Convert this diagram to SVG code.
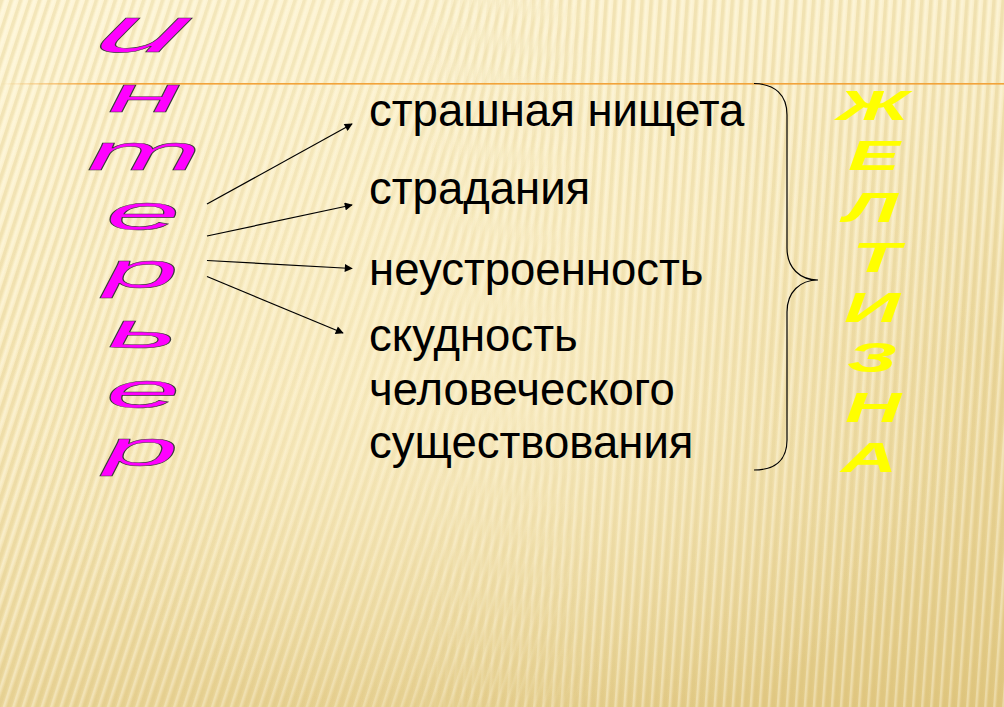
<svg xmlns="http://www.w3.org/2000/svg" width="1004" height="707" viewBox="0 0 1004 707">
  <defs>
    <linearGradient id="bg" x1="0" y1="0" x2="1" y2="1">
      <stop offset="0" stop-color="#FCF1CC"/>
      <stop offset="0.45" stop-color="#F6E6B6"/>
      <stop offset="1" stop-color="#E4CB86"/>
    </linearGradient>
    <linearGradient id="bgv" x1="0" y1="0" x2="0" y2="1">
      <stop offset="0" stop-color="#FFF8DC" stop-opacity="0.55"/>
      <stop offset="0.5" stop-color="#FFF8DC" stop-opacity="0.1"/>
      <stop offset="1" stop-color="#D9BE74" stop-opacity="0.35"/>
    </linearGradient>
    <radialGradient id="glow" cx="0.5" cy="0.55" r="0.5">
      <stop offset="0" stop-color="#FFF6D6" stop-opacity="0.45"/>
      <stop offset="1" stop-color="#FFF6D6" stop-opacity="0"/>
    </radialGradient>
    <pattern id="stripesL" width="9" height="40" patternUnits="userSpaceOnUse" patternTransform="rotate(18)">
      <rect x="0" y="0" width="3.5" height="40" fill="#D8BC72" opacity="0.28"/>
      <rect x="5" y="0" width="2.5" height="40" fill="#FFFBEA" opacity="0.35"/>
    </pattern>
    <pattern id="stripesR" width="9" height="40" patternUnits="userSpaceOnUse" patternTransform="rotate(4)">
      <rect x="0" y="0" width="3.5" height="40" fill="#D8BC72" opacity="0.28"/>
      <rect x="5" y="0" width="2.5" height="40" fill="#FFFBEA" opacity="0.35"/>
    </pattern>
    <linearGradient id="fadeL" x1="0" y1="0" x2="1" y2="0">
      <stop offset="0" stop-color="#fff" stop-opacity="1"/>
      <stop offset="0.45" stop-color="#fff" stop-opacity="0.7"/>
      <stop offset="0.6" stop-color="#fff" stop-opacity="0"/>
    </linearGradient>
    <linearGradient id="fadeR" x1="0" y1="0" x2="1" y2="0">
      <stop offset="0.4" stop-color="#fff" stop-opacity="0"/>
      <stop offset="0.6" stop-color="#fff" stop-opacity="1"/>
    </linearGradient>
    <mask id="mL"><rect width="1004" height="707" fill="url(#fadeL)"/></mask>
    <mask id="mR"><rect width="1004" height="707" fill="url(#fadeR)"/></mask>
    <linearGradient id="lineG" x1="0" y1="0" x2="1" y2="0">
      <stop offset="0" stop-color="#F2A33A" stop-opacity="0"/>
      <stop offset="0.1" stop-color="#F2A33A" stop-opacity="1"/>
      <stop offset="1" stop-color="#F2A33A"/>
    </linearGradient>
    <marker id="arr" viewBox="0 0 10 10" refX="9" refY="5" markerWidth="10" markerHeight="8" markerUnits="userSpaceOnUse" orient="auto">
      <path d="M0,0 L10,5 L0,10 z" fill="#000"/>
    </marker>
    <style>
      .lbl { font-family: "Liberation Sans", Arial, sans-serif; font-size: 45.5px; fill: #000; }
      .mag { font-family: "Liberation Sans", Arial, sans-serif; font-style: italic; fill: #FF00FF; stroke: #3A3A3A; stroke-width: 0.5; text-anchor: middle; }
      .yel { font-family: "Liberation Sans", Arial, sans-serif; font-style: italic; font-weight: bold; font-size: 42px; fill: #FFFF00; text-anchor: middle; }
      .con { stroke: #000; stroke-width: 1.2; fill: none; }
    </style>
  </defs>

  <!-- background -->
  <rect width="1004" height="707" fill="url(#bg)"/>
  <rect width="1004" height="707" fill="url(#bgv)"/>
  <rect width="1004" height="707" fill="url(#stripesL)" mask="url(#mL)"/>
  <rect width="1004" height="707" fill="url(#stripesR)" mask="url(#mR)"/>
  <rect width="1004" height="707" fill="url(#glow)"/>
  <rect x="0" y="83" width="1004" height="1.6" fill="url(#lineG)"/>

  <!-- Интерьер (vertical magenta letters) -->
  <g id="interior">
    <text class="mag" font-size="56" font-style="normal" transform="translate(134,52) scale(2.8,1.15) skewX(-12)">и</text>
    <text class="mag" font-size="50" transform="translate(145,112) scale(2.7,1)">н</text>
    <text class="mag" font-size="50" transform="translate(144,170) scale(2.75,1)">т</text>
    <text class="mag" font-size="50" transform="translate(143,230) scale(2.7,1)">е</text>
    <text class="mag" font-size="50" transform="translate(141,288) scale(2.7,1)">р</text>
    <text class="mag" font-size="50" transform="translate(143,348) scale(2.7,1)">ь</text>
    <text class="mag" font-size="50" transform="translate(143,408) scale(2.7,1)">е</text>
    <text class="mag" font-size="50" transform="translate(141,466) scale(2.7,1)">р</text>
  </g>

  <!-- Желтизна (vertical yellow letters) -->
  <g id="yellowness">
    <text class="yel" transform="translate(873,120) scale(1.85,1)">Ж</text>
    <text class="yel" transform="translate(874,170) scale(1.85,1)">Е</text>
    <text class="yel" transform="translate(871,222) scale(1.85,1)">Л</text>
    <text class="yel" transform="translate(876,272) scale(1.85,1)">Т</text>
    <text class="yel" transform="translate(872,322) scale(1.85,1)">И</text>
    <text class="yel" transform="translate(872,372) scale(1.85,1)">З</text>
    <text class="yel" transform="translate(873,422) scale(1.85,1)">Н</text>
    <text class="yel" transform="translate(869,472) scale(1.85,1)">А</text>
  </g>

  <!-- labels -->
  <g id="n1"><text class="lbl" x="369" y="126">страшная нищета</text></g>
  <g id="n2"><text class="lbl" x="369" y="204">страдания</text></g>
  <g id="n3"><text class="lbl" x="369" y="285">неустроенность</text></g>
  <g id="n4">
    <text class="lbl" x="369" y="351">скудность</text>
    <text class="lbl" x="369" y="405">человеческого</text>
    <text class="lbl" x="369" y="458">существования</text>
  </g>

  <!-- connectors -->
  <g id="connectors">
    <line class="con" x1="207" y1="204" x2="352" y2="124" marker-end="url(#arr)"/>
    <line class="con" x1="207" y1="236" x2="352" y2="205" marker-end="url(#arr)"/>
    <line class="con" x1="207" y1="260.5" x2="352" y2="268.5" marker-end="url(#arr)"/>
    <line class="con" x1="207" y1="276.5" x2="343" y2="333" marker-end="url(#arr)"/>
    <path class="con" stroke-width="1.3" d="M754,83.5 C775,84 787,95 787,115 L787,248 C787,268 800,280 818,280 C800,280 787,292 787,312 L787,440 C787,460 775,470 754,470"/>
  </g>
</svg>
